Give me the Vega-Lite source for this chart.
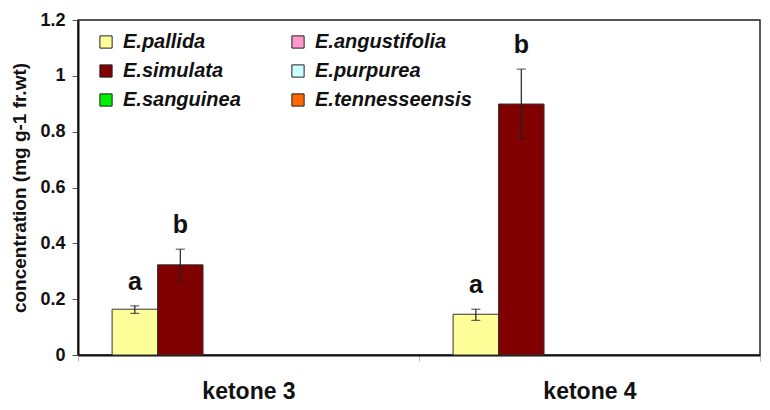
{
  "$schema": "https://vega.github.io/schema/vega-lite/v6.json",
  "width": 682,
  "height": 335,
  "autosize": {"type": "none"},
  "padding": {"left": 78, "top": 20, "right": 10, "bottom": 55},
  "background": "white",
  "config": {
    "font": "Liberation Sans",
    "view": {"stroke": "#222", "strokeWidth": 1.5}
  },
  "data": {
    "values": [
      {"compound": "ketone 3", "species": "E.pallida", "value": 0.164, "lower": 0.149, "upper": 0.176, "letter": "a"},
      {"compound": "ketone 3", "species": "E.simulata", "value": 0.323, "lower": 0.265, "upper": 0.379, "letter": "b"},
      {"compound": "ketone 4", "species": "E.pallida", "value": 0.146, "lower": 0.124, "upper": 0.164, "letter": "a"},
      {"compound": "ketone 4", "species": "E.simulata", "value": 0.899, "lower": 0.774, "upper": 1.024, "letter": "b"}
    ]
  },
  "encoding": {
    "x": {
      "field": "compound",
      "type": "nominal",
      "scale": {"paddingInner": 0, "paddingOuter": 0},
      "axis": {
        "title": null,
        "labelAngle": 0,
        "labelFontSize": 23,
        "labelFontWeight": "bold",
        "labelColor": "#111",
        "labelPadding": 19,
        "labelDx": 6,
        "domainColor": "#111",
        "domainWidth": 2,
        "tickBand": "extent",
        "tickColor": "#bbb",
        "tickSize": 6
      }
    },
    "xOffset": {
      "field": "species",
      "type": "nominal",
      "scale": {
        "domain": ["E.pallida", "E.simulata", "E.sanguinea", "E.angustifolia", "E.purpurea", "E.tennesseensis"],
        "paddingInner": 0,
        "paddingOuter": 0.75
      }
    }
  },
  "layer": [
    {
      "mark": {"type": "bar", "stroke": "#333", "strokeWidth": 1},
      "encoding": {
        "y": {
          "field": "value",
          "type": "quantitative",
          "scale": {"domain": [0, 1.2]},
          "axis": {
            "title": "concentration (mg g-1 fr.wt)",
            "titleFontSize": 19,
            "titleFontWeight": "bold",
            "titleColor": "#111",
            "titlePadding": 10,
            "values": [0, 0.2, 0.4, 0.6, 0.8, 1, 1.2],
            "format": "~g",
            "labelFontSize": 18,
            "labelFontWeight": "bold",
            "labelColor": "#111",
            "labelPadding": 7,
            "grid": false,
            "domainColor": "#111",
            "domainWidth": 2,
            "tickColor": "#555",
            "tickSize": 6
          }
        },
        "color": {
          "field": "species",
          "type": "nominal",
          "scale": {
            "domain": ["E.pallida", "E.simulata", "E.sanguinea", "E.angustifolia", "E.purpurea", "E.tennesseensis"],
            "range": ["#FFFF99", "#800000", "#00EE00", "#FF99CC", "#CCFFFF", "#FF6600"]
          },
          "legend": {
            "title": null,
            "orient": "none",
            "legendX": 18,
            "legendY": 12,
            "columns": 2,
            "columnPadding": 47,
            "rowPadding": 9,
            "symbolType": "square",
            "symbolSize": 150,
            "symbolStrokeColor": "#222",
            "symbolStrokeWidth": 1,
            "labelFontSize": 20,
            "labelFontWeight": "bold",
            "labelFontStyle": "italic",
            "labelColor": "#111",
            "labelOffset": 7,
            "labelLimit": 300
          }
        }
      }
    },
    {
      "mark": {"type": "rule", "color": "#222", "strokeWidth": 1.2},
      "encoding": {
        "y": {"field": "lower", "type": "quantitative"},
        "y2": {"field": "upper"}
      }
    },
    {
      "mark": {"type": "tick", "color": "#222", "thickness": 1.2, "size": 9},
      "encoding": {"y": {"field": "lower", "type": "quantitative"}}
    },
    {
      "mark": {"type": "tick", "color": "#222", "thickness": 1.2, "size": 9},
      "encoding": {"y": {"field": "upper", "type": "quantitative"}}
    },
    {
      "mark": {"type": "text", "baseline": "alphabetic", "dy": -16, "fontSize": 25, "fontWeight": "bold", "color": "#111"},
      "encoding": {
        "y": {"field": "upper", "type": "quantitative"},
        "text": {"field": "letter"}
      }
    }
  ]
}
